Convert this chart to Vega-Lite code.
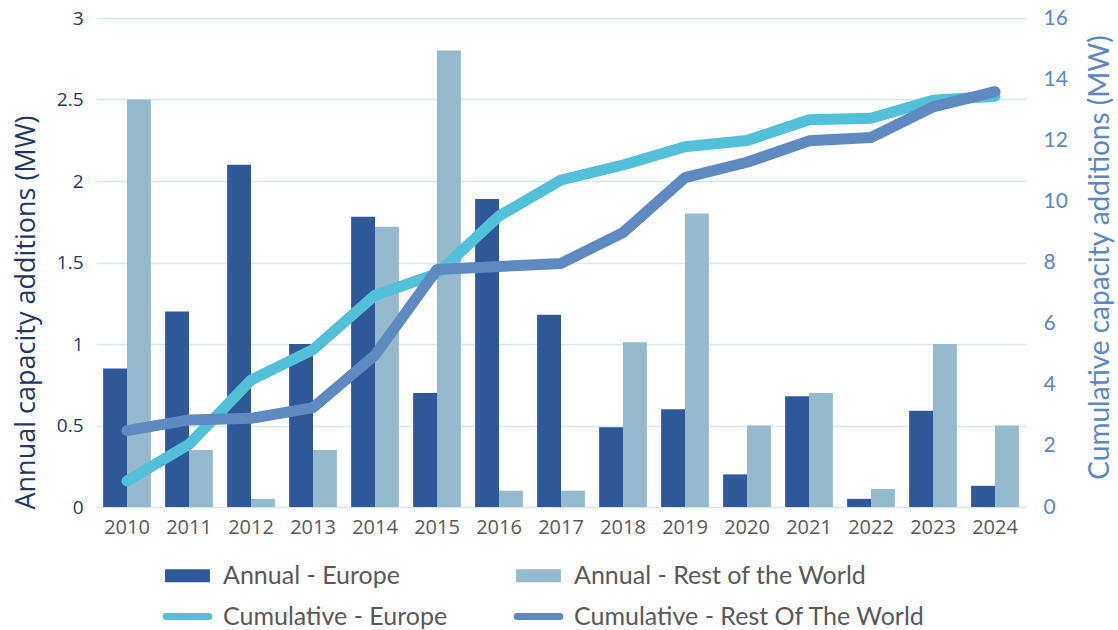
{
  "$schema": "https://vega.github.io/schema/vega-lite/v6.json",
  "width": 930,
  "height": 489,
  "autosize": {"type": "none"},
  "padding": {"left": 96, "top": 18, "right": 92, "bottom": 123},
  "background": "white",
  "config": {"view": {"stroke": null}, "font": "Open Sans"},
  "datasets": {
    "annual": [
      {"year": "2010", "series": "Annual - Europe", "value": 0.85},
      {"year": "2011", "series": "Annual - Europe", "value": 1.2},
      {"year": "2012", "series": "Annual - Europe", "value": 2.1},
      {"year": "2013", "series": "Annual - Europe", "value": 1.0},
      {"year": "2014", "series": "Annual - Europe", "value": 1.78},
      {"year": "2015", "series": "Annual - Europe", "value": 0.7},
      {"year": "2016", "series": "Annual - Europe", "value": 1.89},
      {"year": "2017", "series": "Annual - Europe", "value": 1.18},
      {"year": "2018", "series": "Annual - Europe", "value": 0.49},
      {"year": "2019", "series": "Annual - Europe", "value": 0.6},
      {"year": "2020", "series": "Annual - Europe", "value": 0.2},
      {"year": "2021", "series": "Annual - Europe", "value": 0.68},
      {"year": "2022", "series": "Annual - Europe", "value": 0.05},
      {"year": "2023", "series": "Annual - Europe", "value": 0.59},
      {"year": "2024", "series": "Annual - Europe", "value": 0.13},
      {"year": "2010", "series": "Annual - Rest of the World", "value": 2.5},
      {"year": "2011", "series": "Annual - Rest of the World", "value": 0.35},
      {"year": "2012", "series": "Annual - Rest of the World", "value": 0.05},
      {"year": "2013", "series": "Annual - Rest of the World", "value": 0.35},
      {"year": "2014", "series": "Annual - Rest of the World", "value": 1.72},
      {"year": "2015", "series": "Annual - Rest of the World", "value": 2.8},
      {"year": "2016", "series": "Annual - Rest of the World", "value": 0.1},
      {"year": "2017", "series": "Annual - Rest of the World", "value": 0.1},
      {"year": "2018", "series": "Annual - Rest of the World", "value": 1.01},
      {"year": "2019", "series": "Annual - Rest of the World", "value": 1.8},
      {"year": "2020", "series": "Annual - Rest of the World", "value": 0.5},
      {"year": "2021", "series": "Annual - Rest of the World", "value": 0.7},
      {"year": "2022", "series": "Annual - Rest of the World", "value": 0.11},
      {"year": "2023", "series": "Annual - Rest of the World", "value": 1.0},
      {"year": "2024", "series": "Annual - Rest of the World", "value": 0.5}
    ],
    "cumulative": [
      {"year": "2010", "series": "Cumulative - Europe", "value": 0.85},
      {"year": "2011", "series": "Cumulative - Europe", "value": 2.05},
      {"year": "2012", "series": "Cumulative - Europe", "value": 4.15},
      {"year": "2013", "series": "Cumulative - Europe", "value": 5.15},
      {"year": "2014", "series": "Cumulative - Europe", "value": 6.93},
      {"year": "2015", "series": "Cumulative - Europe", "value": 7.63},
      {"year": "2016", "series": "Cumulative - Europe", "value": 9.52},
      {"year": "2017", "series": "Cumulative - Europe", "value": 10.7},
      {"year": "2018", "series": "Cumulative - Europe", "value": 11.19},
      {"year": "2019", "series": "Cumulative - Europe", "value": 11.79},
      {"year": "2020", "series": "Cumulative - Europe", "value": 11.99},
      {"year": "2021", "series": "Cumulative - Europe", "value": 12.67},
      {"year": "2022", "series": "Cumulative - Europe", "value": 12.72},
      {"year": "2023", "series": "Cumulative - Europe", "value": 13.31},
      {"year": "2024", "series": "Cumulative - Europe", "value": 13.44},
      {"year": "2010", "series": "Cumulative - Rest Of The World", "value": 2.5},
      {"year": "2011", "series": "Cumulative - Rest Of The World", "value": 2.85},
      {"year": "2012", "series": "Cumulative - Rest Of The World", "value": 2.9},
      {"year": "2013", "series": "Cumulative - Rest Of The World", "value": 3.25},
      {"year": "2014", "series": "Cumulative - Rest Of The World", "value": 4.97},
      {"year": "2015", "series": "Cumulative - Rest Of The World", "value": 7.77},
      {"year": "2016", "series": "Cumulative - Rest Of The World", "value": 7.87},
      {"year": "2017", "series": "Cumulative - Rest Of The World", "value": 7.97},
      {"year": "2018", "series": "Cumulative - Rest Of The World", "value": 8.98},
      {"year": "2019", "series": "Cumulative - Rest Of The World", "value": 10.78},
      {"year": "2020", "series": "Cumulative - Rest Of The World", "value": 11.28},
      {"year": "2021", "series": "Cumulative - Rest Of The World", "value": 11.98},
      {"year": "2022", "series": "Cumulative - Rest Of The World", "value": 12.09},
      {"year": "2023", "series": "Cumulative - Rest Of The World", "value": 13.09},
      {"year": "2024", "series": "Cumulative - Rest Of The World", "value": 13.59}
    ]
  },
  "layer": [
    {
      "data": {"name": "annual"},
      "mark": {"type": "bar"},
      "encoding": {
        "x": {
          "field": "year",
          "type": "ordinal",
          "scale": {"paddingInner": 0.23, "paddingOuter": 0.115},
          "axis": {
            "title": null,
            "domain": false,
            "ticks": false,
            "grid": false,
            "labelAngle": 0,
            "labelFont": "Open Sans",
            "labelFontSize": 20,
            "labelColor": "#595959",
            "labelPadding": 10
          }
        },
        "xOffset": {"field": "series", "type": "nominal", "sort": null},
        "y": {
          "field": "value",
          "type": "quantitative",
          "scale": {"domain": [0, 3]},
          "axis": {
            "orient": "left",
            "values": [0, 0.5, 1, 1.5, 2, 2.5, 3],
            "format": "~g",
            "domain": false,
            "ticks": false,
            "grid": true,
            "gridColor": "#D3E9F2",
            "gridWidth": 1.5,
            "labelFont": "Open Sans",
            "labelFontSize": 19,
            "labelColor": "#1F3864",
            "labelPadding": 13,
            "title": "Annual capacity additions (MW)",
            "titleFont": "Open Sans",
            "titleFontSize": 27,
            "titleFontWeight": "normal",
            "titleColor": "#1F3864",
            "titleAngle": 270,
            "titleBaseline": "middle",
            "titleAlign": "center",
            "titleX": -70,
            "titleY": 294
          }
        },
        "color": {
          "field": "series",
          "type": "nominal",
          "scale": {
            "domain": ["Annual - Europe", "Annual - Rest of the World", "Cumulative - Europe", "Cumulative - Rest Of The World"],
            "range": ["#2E5898", "#95B9CD", "#52C0D9", "#5E8AC1"]
          },
          "legend": {
            "orient": "none",
            "legendX": 79,
            "legendY": 545,
            "direction": "horizontal",
            "columns": 2,
            "title": null,
            "labelFont": "Lato",
            "labelFontSize": 25,
            "labelColor": "#595959",
            "labelOffset": 23,
            "labelLimit": 400,
            "symbolSize": 196,
            "columnPadding": 55,
            "rowPadding": 13,
            "symbolType": "square",
            "encode": {
              "symbols": {
                "update": {
                  "shape": {"signal": "datum.index < 2 ? 'M-3.2,-0.93H3.2V0.93H-3.2Z' : 'M-3.05,0H3.05'"},
                  "stroke": {"scale": "color", "field": "value"},
                  "strokeWidth": {"signal": "datum.index < 2 ? 0 : 7"},
                  "strokeCap": {"value": "round"},
                  "opacity": {"value": 1}
                }
              }
            }
          }
        }
      }
    },
    {
      "data": {"name": "cumulative"},
      "mark": {"type": "line", "strokeWidth": 11, "strokeCap": "round", "strokeJoin": "round"},
      "encoding": {
        "x": {"field": "year", "type": "ordinal"},
        "y": {
          "field": "value",
          "type": "quantitative",
          "scale": {"domain": [0, 16]},
          "axis": {
            "orient": "right",
            "values": [0, 2, 4, 6, 8, 10, 12, 14, 16],
            "domain": false,
            "ticks": false,
            "grid": false,
            "labelFont": "Lato",
            "labelFontSize": 21,
            "labelColor": "#5B87C6",
            "labelPadding": 17,
            "title": "Cumulative capacity additions (MW)",
            "titleFont": "Lato",
            "titleFontSize": 28,
            "titleFontWeight": "normal",
            "titleColor": "#5B87C6",
            "titleAngle": 270,
            "titleBaseline": "middle",
            "titleAlign": "center",
            "titleX": 74,
            "titleY": 239
          }
        },
        "color": {"field": "series", "type": "nominal"}
      }
    }
  ],
  "resolve": {"scale": {"y": "independent"}}
}
